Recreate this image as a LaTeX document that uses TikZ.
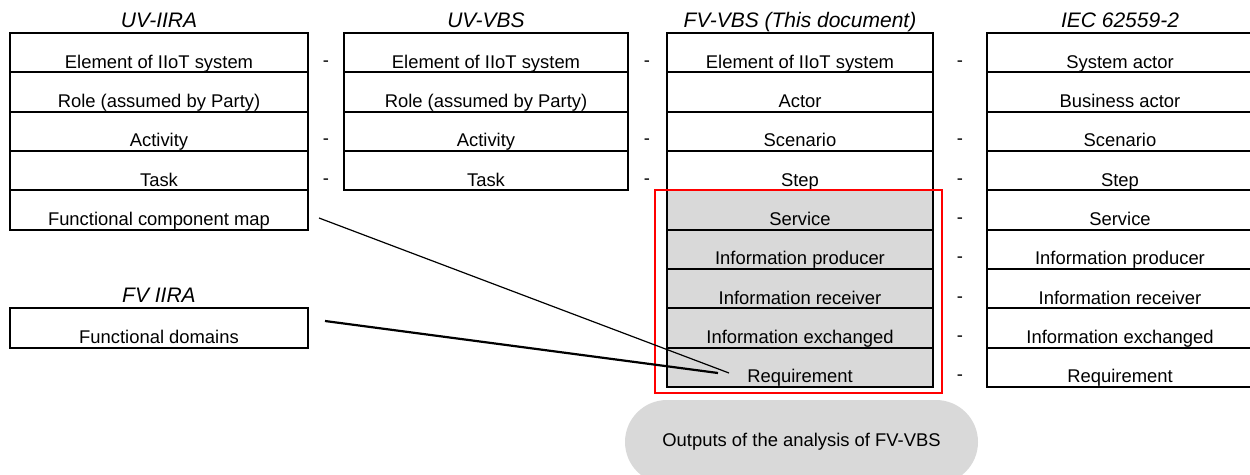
\documentclass[tikz,border=0pt]{standalone}
\usepackage{fontspec}
\setmainfont{Liberation Sans}
\usetikzlibrary{shapes.misc}
\definecolor{cellgray}{HTML}{D9D9D9}
\begin{document}
\begin{tikzpicture}[x=1pt,y=-1pt,
  cell/.style={draw,line width=2pt,minimum height=39.33pt,inner sep=0pt,anchor=north},
  shadedcell/.style={cell,fill=cellgray},
  txt/.style={anchor=base,font=\fontsize{18.4}{22}\selectfont,inner sep=0pt},
  ttl/.style={anchor=base,font=\fontsize{21}{25}\selectfont\itshape,inner sep=0pt},
  thinline/.style={line width=1.2pt},
  thickline/.style={line width=2.2pt}]
\clip (0,0) rectangle (1250,474);
% titles
\node[ttl] (t1) at (159,27.5) {UV-IIRA};
\node[ttl] (t2) at (486,27.5) {UV-VBS};
\node[ttl] (t3) at (800,27.5) {FV-VBS (This document)};
\node[ttl] (t4) at (1120,27.5) {IEC 62559-2};
\node[ttl] (t5) at (159,302) {FV IIRA};
% column 1
\foreach \t [count=\i] in {Element of IIoT system,Role (assumed by Party),Activity,Task,Functional component map}{
  \node[cell,minimum width=298pt] (a\i) at (159,{32+39.333*(\i-1)}) {};
  \node[txt] (at\i) at ([yshift=5pt]a\i.south) {\t};
}
% column 2
\foreach \t [count=\i] in {Element of IIoT system,Role (assumed by Party),Activity,Task}{
  \node[cell,minimum width=284pt] (b\i) at (486,{32+39.333*(\i-1)}) {};
  \node[txt] (bt\i) at ([yshift=5pt]b\i.south) {\t};
}
% column 3
\foreach \t [count=\i] in {Element of IIoT system,Actor,Scenario,Step}{
  \node[cell,minimum width=266pt] (c\i) at (800,{32+39.333*(\i-1)}) {};
  \node[txt] (ct\i) at ([yshift=5pt]c\i.south) {\t};
}
\foreach \t [count=\j from 5] in {Service,Information producer,Information receiver,Information exchanged,Requirement}{
  \node[shadedcell,minimum width=266pt] (c\j) at (800,{32+39.333*(\j-1)}) {};
  \node[txt] (ct\j) at ([yshift=5pt]c\j.south) {\t};
}
% column 4
\foreach \t [count=\i] in {System actor,Business actor,Scenario,Step,Service,Information producer,Information receiver,Information exchanged,Requirement}{
  \node[cell,minimum width=266pt] (d\i) at (1120,{32+39.333*(\i-1)}) {};
  \node[txt] (dt\i) at ([yshift=5pt]d\i.south) {\t};
}
% FV IIRA box
\node[cell,minimum width=298pt] (e1) at (159,307.33) {};
\node[txt] (et1) at ([yshift=5pt]e1.south) {Functional domains};
% dashes
\foreach \r in {1,3,4}{
  \node[txt] (g1-\r) at (326,{66.3+39.333*(\r-1)}) {-};
  \node[txt] (g2-\r) at (647,{66.3+39.333*(\r-1)}) {-};
}
\foreach \r in {1,3,4,5,6,7,8,9}{
  \node[txt] (g3-\r) at (960,{66.3+39.333*(\r-1)}) {-};
}
% red frame
\node[draw=red,line width=1.5pt,minimum width=287pt,minimum height=203pt,inner sep=0pt,anchor=north west] (frame) at (654,189) {};
% outputs
\node[rounded rectangle,fill=cellgray,minimum width=353pt,minimum height=84pt,inner sep=0pt,font=\fontsize{18.4}{22}\selectfont] (out) at (801.5,442) {Outputs of the analysis of FV-VBS};
% connectors
\coordinate (fcm) at (319,218);
\coordinate (reqA) at (729,373);
\coordinate (fd) at (325,321);
\coordinate (reqB) at (718,373);
\draw[thinline] (fcm) -- (reqA);
\draw[thickline] (fd) -- (reqB);
\end{tikzpicture}
\end{document}
